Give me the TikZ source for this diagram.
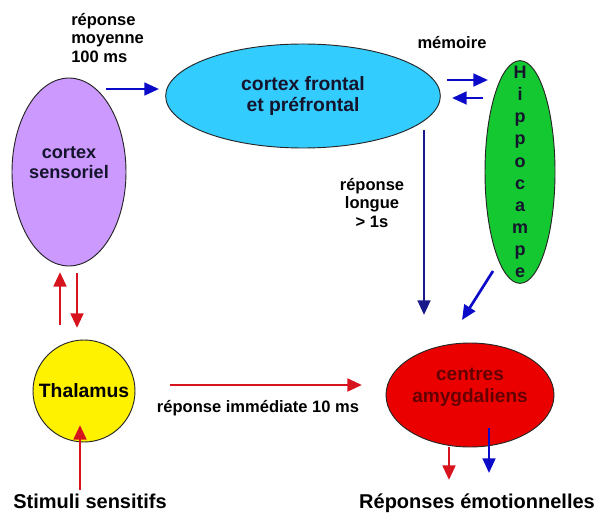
\documentclass[tikz,border=0pt]{standalone}
\usepackage{fontspec}
\setmainfont{Liberation Sans}
\usepackage{xcolor}
\usetikzlibrary{shapes.geometric,arrows.meta}

\definecolor{violet1}{RGB}{204,153,255}
\definecolor{cyan1}{RGB}{51,204,255}
\definecolor{vert1}{RGB}{20,200,50}
\definecolor{rouge1}{RGB}{235,0,0}
\definecolor{bleu1}{RGB}{10,10,200}
\definecolor{bleu2}{RGB}{25,25,140}
\definecolor{rouge2}{RGB}{215,20,30}
\definecolor{texte1}{RGB}{20,20,45}
\definecolor{texte2}{RGB}{100,0,0}

\tikzset{
  zone/.style={ellipse, draw=black!85, line width=0.7pt, inner sep=0pt, align=center,
    text=texte1, font=\fontsize{14.5}{15.5}\selectfont\bfseries},
  legende/.style={inner sep=0pt, align=center, font=\fontsize{12.4}{14.2}\selectfont\bfseries},
  titre/.style={inner sep=0pt, font=\fontsize{15}{17}\selectfont\bfseries},
  fleche bleue/.style={draw=bleu1, line width=2pt, -{Triangle[length=11pt,width=9.5pt]}},
  fleche rouge/.style={draw=rouge2, line width=2.2pt, -{Triangle[length=11pt,width=9.5pt]}}
}

\begin{document}
\begin{tikzpicture}[x=0.75pt,y=0.75pt,yscale=-1,xscale=1]
  \useasboundingbox (0,0) rectangle (598,516);

  % les zones
  \node[zone, fill=violet1, minimum width=85.5pt, minimum height=141pt,
    font=\fontsize{13.6}{15}\selectfont\bfseries, text depth=14pt] (sensoriel) at (69,172) {cortex\\sensoriel};
  \node[zone, fill=cyan1, minimum width=206pt, minimum height=78pt] (frontal) at (303,96) {cortex frontal\\et préfrontal};
  \node[zone, fill=vert1, minimum width=52.5pt, minimum height=167pt] (hippo) at (520,172) {};
  \node[inner sep=0pt, align=center, text=texte1, font=\fontsize{13.5}{16.6}\selectfont\bfseries] (hippo-txt) at (hippo) {H\\i\\p\\p\\o\\c\\a\\m\\p\\e};
  \node[zone, circle, fill=yellow, minimum size=76.5pt, text=black] (thalamus) at (84,391) {Thalamus};
  \node[zone, fill=rouge1, minimum width=126pt, minimum height=78pt, text=texte2,
    font=\fontsize{14.3}{16.5}\selectfont\bfseries, text depth=14pt] (amygdale) at (470,395) {centres\\amygdaliens};

  % les textes
  \node[legende, align=left, anchor=west] (moyenne) at (71,38) {réponse\\moyenne\\100 ms};
  \node[legende] (memoire) at (452,43) {mémoire};
  \node[legende] (longue) at (372,203) {réponse\\longue\\> 1s};
  \node[legende] (immediate) at (258,408) {réponse immédiate 10 ms};
  \node[titre] (stimuli) at (90,501) {Stimuli sensitifs};
  \node[titre] (reponses) at (477,503) {Réponses émotionnelles};

  % bouts des fleches
  \coordinate (moy-a) at (106,89);
  \coordinate (moy-b) at (159,89);
  \coordinate (mem-a) at (447,80);
  \coordinate (mem-b) at (488,80);
  \coordinate (mem-c) at (483,98);
  \coordinate (mem-d) at (452,98);
  \coordinate (long-a) at (424,130);
  \coordinate (long-b) at (424,315);
  \coordinate (hip-a) at (493,271);
  \coordinate (hip-b) at (462,320);
  \coordinate (tha-a) at (60,325);
  \coordinate (tha-b) at (60,272);
  \coordinate (tha-c) at (77,273);
  \coordinate (tha-d) at (77,328);
  \coordinate (imm-a) at (170,385);
  \coordinate (imm-b) at (362,385);
  \coordinate (sti-a) at (80,490);
  \coordinate (sti-b) at (80,425);
  \coordinate (rep-a) at (449,447);
  \coordinate (rep-b) at (449,480);
  \coordinate (rep-c) at (489,428);
  \coordinate (rep-d) at (489,473);

  % les fleches
  \draw[fleche bleue] (moy-a) -- (moy-b);
  \draw[fleche bleue] (mem-a) -- (mem-b);
  \draw[fleche bleue] (mem-c) -- (mem-d);
  \draw[fleche bleue, draw=bleu2] (long-a) -- (long-b);
  \draw[fleche bleue] (hip-a) -- (hip-b);
  \draw[fleche rouge] (tha-a) -- (tha-b);
  \draw[fleche rouge] (tha-c) -- (tha-d);
  \draw[fleche rouge] (imm-a) -- (imm-b);
  \draw[fleche rouge] (sti-a) -- (sti-b);
  \draw[fleche rouge] (rep-a) -- (rep-b);
  \draw[fleche bleue] (rep-c) -- (rep-d);
\end{tikzpicture}
\end{document}
